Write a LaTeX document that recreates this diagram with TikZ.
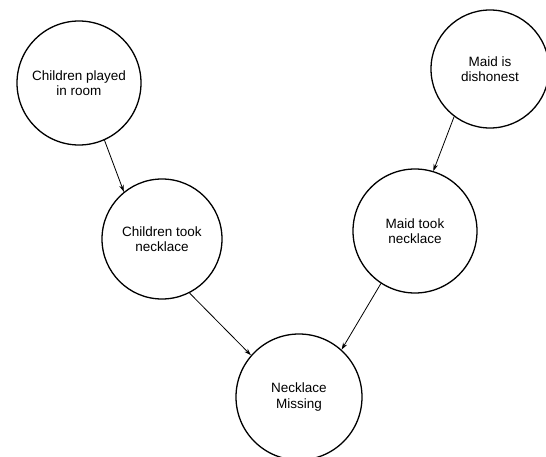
\documentclass[tikz,border=0pt]{standalone}
\usepackage{fontspec}
\setmainfont{Liberation Sans}
\usetikzlibrary{arrows.meta}
\begin{document}
\begin{tikzpicture}[x=1pt,y=-1pt,
  event/.style={circle,draw,line width=1.3pt,inner sep=0pt,align=center,
    font=\fontsize{13.5}{15.5}\selectfont},
  link/.style={line width=0.8pt,-{Stealth[length=7pt,width=4.5pt]}}]
\useasboundingbox[fill=white] (0,0) rectangle (546,457);
\node[event,minimum size=124pt] (c1) at (79,83) {Children played\\in room};
\node[event,minimum size=118pt] (c2) at (490,69) {Maid is\\dishonest};
\node[event,minimum size=120pt] (c3) at (162,239) {Children took\\necklace};
\node[event,minimum size=124pt] (c4) at (415,231) {Maid took\\necklace};
\node[event,minimum size=126pt] (c5) at (299,397) {Necklace\\Missing};
\draw[link] (c1.-66) -- (c3.129);
\draw[link] (c3.-63) -- (c5.139);
\draw[link] (c2.233) -- (c4.73);
\draw[link] (c4.237) -- (c5.48);
\end{tikzpicture}
\end{document}
